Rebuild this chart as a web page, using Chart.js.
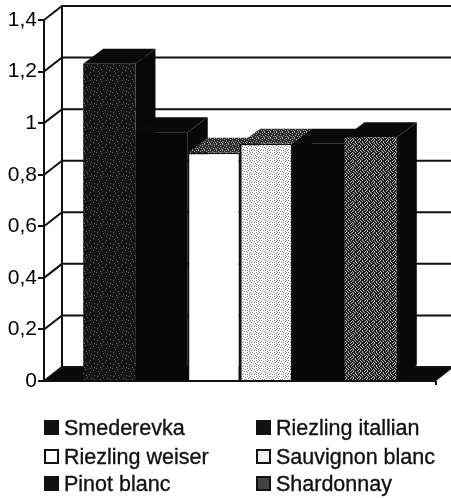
<!DOCTYPE html>
<html><head><meta charset="utf-8">
<script src="https://cdn.jsdelivr.net/npm/chart.js@4"></script>
<style>
html,body{margin:0;padding:0;background:#fff;width:451px;height:498px;overflow:hidden}
#c{position:absolute;left:0;top:0}
.it{position:absolute;font:21.5px "Liberation Sans",Arial,sans-serif;color:#111;line-height:22px;white-space:nowrap;-webkit-text-stroke:.35px #111}
.sw{position:absolute;width:11px;height:11px;border:2px solid #111;background:#111}
</style></head><body>
<canvas id="c" width="451" height="498"></canvas>
<script>
const categories = [''];
const seriesNames = ['Smederevka','Riezling itallian','Riezling weiser','Sauvignon blanc','Pinot blanc','Shardonnay'];
const seriesValues = [1.23,0.965,0.885,0.92,0.92,0.945];
const tickValues = [0,0.2,0.4,0.6,0.8,1,1.2,1.4];

function tile(bg, fg, rows){
  const t=document.createElement('canvas');t.width=rows[0].length;t.height=rows.length;
  const x=t.getContext('2d');x.fillStyle=bg;x.fillRect(0,0,t.width,t.height);x.fillStyle=fg;
  rows.forEach((r,j)=>[...r].forEach((ch,i)=>{if(ch==='#')x.fillRect(i,j,1,1);}));
  return x.createPattern(t,'repeat');
}
const ctx0=document.getElementById('c').getContext('2d');
const darkSpeck=tile('#151515','#666',['..........#.....','...#............','.........#......','......#.......#.','.#..............','.......#........','...........#....','....#.........#.','#.........#.....','.....#..........','.............#..','..#.............']);
const lightSpeck=tile('#fff','#888',['#...#..#.','..#...#..','.....#..#','.#.#.....','....#..#.','#.....#..','..#.#...#','......#..']);
const midSpeck=tile('#1e1e1e','#bbb',['#..#...','..#..#.','.#...#.','...#..#','#...#..','..#..#.','.#.#...']);
const topSpeck=tile('#2a2a2a','#aaa',['#...#.','..#...','....#.','.#....','...#.#','#.....']);
const fronts=[darkSpeck,'#060606','#ffffff',lightSpeck,'#060606',midSpeck];
const tops=['#0a0a0a','#0a0a0a',topSpeck,topSpeck,'#0a0a0a','#0a0a0a'];
const sides=['#080808','#080808','#0a0a0a','#0a0a0a','#080808','#080808'];
const WALL_X=18,WALL_Y=14,BAR_X=20,BAR_Y=15;

const depth={
  id:'depth',
  beforeDatasetsDraw(c){
    const g=c.ctx,y=c.scales.y,a=c.chartArea;
    g.save();
    g.strokeStyle='#111';g.lineWidth=2;
    const y0=y.getPixelForValue(0);
    g.fillStyle='#0a0a0a';
    g.beginPath();g.moveTo(a.left,y0);g.lineTo(a.left+WALL_X,y0-WALL_Y);g.lineTo(a.right+WALL_X,y0-WALL_Y);g.lineTo(a.right,y0);g.closePath();g.fill();
    tickValues.forEach(v=>{
      const p=y.getPixelForValue(v);
      g.beginPath();g.moveTo(a.left,p);g.lineTo(a.left+WALL_X,p-WALL_Y);g.lineTo(a.right+WALL_X,p-WALL_Y);g.stroke();
    });
    g.beginPath();g.moveTo(a.left+WALL_X,y.getPixelForValue(1.4)-WALL_Y);g.lineTo(a.left+WALL_X,y0-WALL_Y);g.stroke();
    g.beginPath();g.moveTo(a.left,y.getPixelForValue(1.4));g.lineTo(a.left,y0);g.moveTo(a.left,y0);g.lineTo(a.right,y0);g.moveTo(a.right,y0);g.lineTo(a.right,y0+4);g.stroke();
    // bar depth, left to right, so each bar's top covers the side of its left neighbour
    seriesNames.forEach((n,i)=>{
      const b=c.getDatasetMeta(i).data[0];
      const l=b.x-b.width/2,r=b.x+b.width/2,t=b.y,bt=b.base;
      g.fillStyle=sides[i];
      g.beginPath();g.moveTo(r,t);g.lineTo(r+BAR_X,t-BAR_Y);g.lineTo(r+BAR_X,bt-BAR_Y);g.lineTo(r,bt);g.closePath();g.fill();
      g.fillStyle=tops[i];
      g.beginPath();g.moveTo(l,t);g.lineTo(l+BAR_X,t-BAR_Y);g.lineTo(r+BAR_X,t-BAR_Y);g.lineTo(r,t);g.closePath();g.fill();
    });
    g.restore();
  }
};

new Chart(ctx0,{
  type:'bar',
  data:{labels:categories,datasets:seriesNames.map((n,i)=>({
    label:n,data:[seriesValues[i]],backgroundColor:fronts[i],borderColor:'#111',
    borderWidth:(i===2||i===3)?1.5:0
  }))},
  options:{
    responsive:false,animation:false,
    layout:{padding:{top:20,bottom:117,right:15,left:0}},
    plugins:{legend:{display:false},tooltip:{enabled:false}},
    datasets:{bar:{categoryPercentage:0.8,barPercentage:1}},
    scales:{
      x:{display:false},
      y:{min:0,max:1.4,
        afterFit(s){s.width=44;},
        afterBuildTicks(s){s.ticks=tickValues.map(v=>({value:v}));},
        border:{display:false},
        grid:{drawOnChartArea:false,drawTicks:true,tickLength:6,color:'#111',lineWidth:2},
        ticks:{color:'#000',padding:1,font:{family:'"Liberation Sans",Arial,sans-serif',size:21},
          callback:v=>String(v).replace('.',',')}
      }
    }
  },
  plugins:[depth]
});

const cols=[44,256],rowsY=[417,446,473];
const swatchCss=['#111','#111','#fff','#eee','#111','#444'];
seriesNames.forEach((n,i)=>{
  const col=i%2,row=Math.floor(i/2);
  const s=document.createElement('div');s.className='sw';
  s.style.left=cols[col]+'px';s.style.top=(rowsY[row]+3)+'px';s.style.background=swatchCss[i];
  document.body.appendChild(s);
  const d=document.createElement('div');d.className='it';d.textContent=n;
  d.style.left=(cols[col]+20)+'px';d.style.top=rowsY[row]+'px';
  document.body.appendChild(d);
});
</script></body></html>
